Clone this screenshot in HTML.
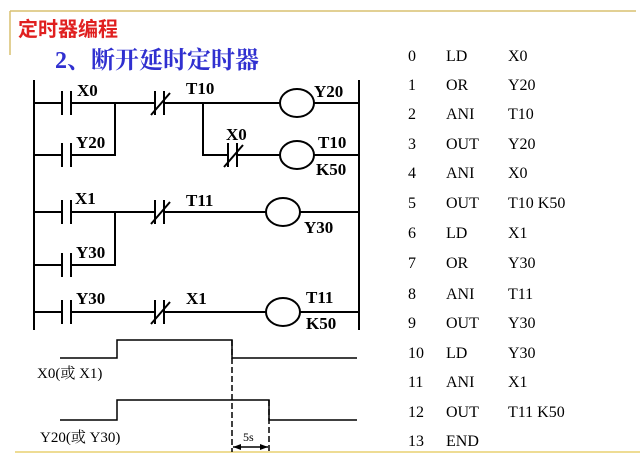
<!DOCTYPE html>
<html><head><meta charset="utf-8"><style>
body{margin:0;background:#fff}
svg{display:block}
.t{font-family:"Liberation Serif","Noto Serif CJK SC",serif;font-weight:bold;font-size:17px;fill:#000}
.r{font-family:"Liberation Serif","Noto Serif CJK SC",serif;font-size:16px;fill:#000}
</style></head><body>
<svg width="640" height="460" viewBox="0 0 640 460" xmlns="http://www.w3.org/2000/svg">
<line x1="10" y1="11" x2="636" y2="11" stroke="#d8c070" stroke-width="1.5"/>
<line x1="10" y1="11" x2="10" y2="55" stroke="#d8c070" stroke-width="1.5"/>
<line x1="15" y1="452" x2="640" y2="452" stroke="#e8d070" stroke-width="1.5"/>
<text x="18" y="36" font-family="Liberation Sans,'Noto Sans CJK SC',sans-serif" font-size="20" font-weight="bold" fill="#e02020">定时器编程</text>
<text x="55" y="68" font-family="Liberation Serif,'Noto Serif CJK SC',serif" font-size="24" font-weight="bold" fill="#3030d0">2、断开延时定时器</text>
<g stroke="#000" stroke-width="2" fill="none">
<line x1="34" y1="80" x2="34" y2="330"/>
<line x1="359" y1="80" x2="359" y2="330"/>
<path d="M34 103H62M71 103H115V155H71M62 155H34"/>
<path d="M62 91V115M71 91V115M62 143V167M71 143V167"/>
<path d="M115 103H155M164 103H280M314 103H359"/>
<path d="M155 91V115M164 91V115M151 115L170 93"/>
<ellipse cx="297" cy="103" rx="17" ry="14"/>
<path d="M203 103V155H228M237 155H280M314 155H359"/>
<path d="M228 143V167M237 143V167M224 167L243 145"/>
<ellipse cx="297" cy="155" rx="17" ry="14"/>
<path d="M34 212H62M71 212H115V265H71M62 265H34"/>
<path d="M62 200V224M71 200V224M62 253V277M71 253V277"/>
<path d="M115 212H155M164 212H267M300 212H359"/>
<path d="M155 200V224M164 200V224M151 224L170 202"/>
<ellipse cx="283" cy="212" rx="17" ry="14"/>
<path d="M34 312H62M71 312H155M164 312H267M300 312H359"/>
<path d="M62 300V324M71 300V324M155 300V324M164 300V324M151 324L170 302"/>
<ellipse cx="283" cy="312" rx="17" ry="14"/>
</g>
<text class="t" x="77" y="96">X0</text>
<text class="t" x="76" y="148">Y20</text>
<text class="t" x="186" y="94">T10</text>
<text class="t" x="314" y="97">Y20</text>
<text class="t" x="226" y="140">X0</text>
<text class="t" x="318" y="148">T10</text>
<text class="t" x="316" y="175">K50</text>
<text class="t" x="75" y="204">X1</text>
<text class="t" x="76" y="258">Y30</text>
<text class="t" x="186" y="206">T11</text>
<text class="t" x="304" y="233">Y30</text>
<text class="t" x="76" y="304">Y30</text>
<text class="t" x="186" y="304">X1</text>
<text class="t" x="306" y="303">T11</text>
<text class="t" x="306" y="329">K50</text>
<g stroke="#000" stroke-width="1.5" fill="none">
<path d="M60 358H117V340H232V358H357"/>
<path d="M60 420H117V400H269V420H357"/>
<path d="M232 340V452M269 400V452" stroke-dasharray="6,3"/>
<path d="M233 447H268"/>
</g>
<path d="M233 447l8-3v6z M268 447l-8-3v6z" fill="#000"/>
<text class="r" x="37" y="378" style="font-size:15px">X0(或 X1)</text>
<text class="r" x="40" y="442" style="font-size:15px">Y20(或 Y30)</text>
<text class="r" x="243" y="441" style="font-size:12px">5s</text>
<g class="r">
<text x="408" y="61">0</text><text x="446" y="61">LD</text><text x="508" y="61">X0</text>
<text x="408" y="90">1</text><text x="446" y="90">OR</text><text x="508" y="90">Y20</text>
<text x="408" y="119">2</text><text x="446" y="119">ANI</text><text x="508" y="119">T10</text>
<text x="408" y="149">3</text><text x="446" y="149">OUT</text><text x="508" y="149">Y20</text>
<text x="408" y="178">4</text><text x="446" y="178">ANI</text><text x="508" y="178">X0</text>
<text x="408" y="208">5</text><text x="446" y="208">OUT</text><text x="508" y="208">T10 K50</text>
<text x="408" y="238">6</text><text x="446" y="238">LD</text><text x="508" y="238">X1</text>
<text x="408" y="268">7</text><text x="446" y="268">OR</text><text x="508" y="268">Y30</text>
<text x="408" y="299">8</text><text x="446" y="299">ANI</text><text x="508" y="299">T11</text>
<text x="408" y="328">9</text><text x="446" y="328">OUT</text><text x="508" y="328">Y30</text>
<text x="408" y="358">10</text><text x="446" y="358">LD</text><text x="508" y="358">Y30</text>
<text x="408" y="387">11</text><text x="446" y="387">ANI</text><text x="508" y="387">X1</text>
<text x="408" y="417">12</text><text x="446" y="417">OUT</text><text x="508" y="417">T11 K50</text>
<text x="408" y="446">13</text><text x="446" y="446">END</text>
</g>
</svg>
</body></html>
